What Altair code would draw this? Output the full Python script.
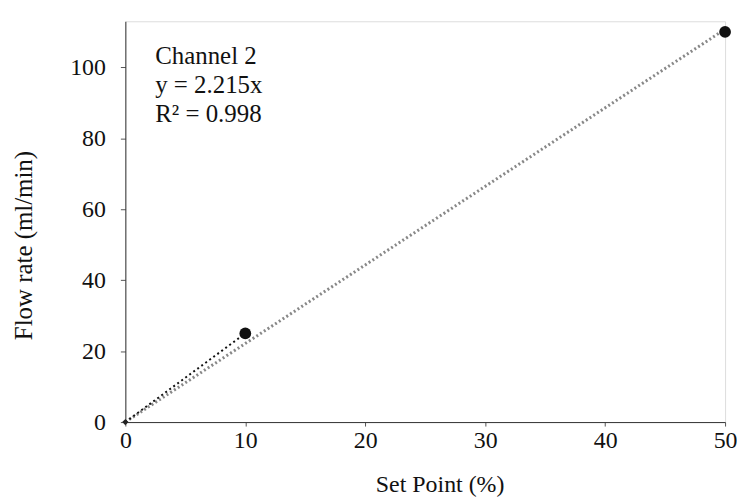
import altair as alt
import pandas as pd

set_point = [0, 10, 50]
flow_rate = [0, 25, 110]
trend_x = [0, 50]
trend_y = [0, 110.75]
x_ticks = [0, 10, 20, 30, 40, 50]
y_ticks = [0, 20, 40, 60, 80, 100]
note_lines = ["Channel 2", "y = 2.215x", "R² = 0.998"]

pts = pd.DataFrame({"x": set_point, "y": flow_rate})
trend = pd.DataFrame({"x": trend_x, "y": trend_y})

FONT = "Liberation Serif"
xs = alt.Scale(domain=[0, 50], nice=False)
ys = alt.Scale(domain=[0, 113], nice=False)

xax = alt.Axis(values=x_ticks, grid=False, labelFont=FONT, labelFontSize=24, labelColor="#111",
               labelFlush=False,
               titleFont=FONT, titleFontSize=24, titleFontWeight="normal", titleColor="#111",
               domainColor="#333", tickColor="#555", tickSize=4, labelPadding=3,
               titleX=316, titleY=63, titleBaseline="middle")
yax = alt.Axis(values=y_ticks, grid=False, labelFont=FONT, labelFontSize=24, labelColor="#111",
               labelFlush=False,
               titleFont=FONT, titleFontSize=25, titleFontWeight="normal", titleColor="#111",
               domainColor="#333", tickColor="#555", tickSize=5, labelPadding=15,
               titleX=-102, titleY=225, titleBaseline="middle", titleAngle=-90)

line = alt.Chart(trend).mark_line(color="#888", strokeWidth=3, strokeDash=[2, 2.5]).encode(
    x=alt.X("x:Q", scale=xs, axis=xax, title="Set  Point (%)"),
    y=alt.Y("y:Q", scale=ys, axis=yax, title="Flow rate (ml/min)"),
)
seg = alt.Chart(pts).mark_line(color="#111", strokeWidth=2, strokeDash=[2, 3]).encode(
    x=alt.X("x:Q", scale=xs), y=alt.Y("y:Q", scale=ys)
).transform_filter("datum.x <= 10")
dots = alt.Chart(pts).transform_filter("datum.x > 0").mark_point(
    filled=True, color="#111", size=140, opacity=1).encode(
    x=alt.X("x:Q", scale=xs), y=alt.Y("y:Q", scale=ys)
)
origin = alt.Chart(pts).transform_filter("datum.x == 0").mark_point(
    shape="diamond", filled=True, color="#222", size=40, opacity=1).encode(
    x=alt.X("x:Q", scale=xs), y=alt.Y("y:Q", scale=ys)
)

texts = []
for i, t in enumerate(note_lines):
    texts.append(
        alt.Chart(pd.DataFrame({"t": [t]})).mark_text(
            align="left", baseline="middle", font=FONT, fontSize=25, color="#111"
        ).encode(x=alt.value(30), y=alt.value(35 + 29 * i), text="t:N")
    )

chart = alt.layer(line, seg, dots, origin, *texts).properties(
    width=603, height=403,
    autosize=alt.AutoSizeParams(type="none"),
    padding={"left": 118, "top": 12, "right": 12, "bottom": 76},
).configure_view(stroke="#ccc", strokeWidth=1.5).configure(background="white")

chart.save("out.html", embed_options={"renderer": "svg", "actions": False})
